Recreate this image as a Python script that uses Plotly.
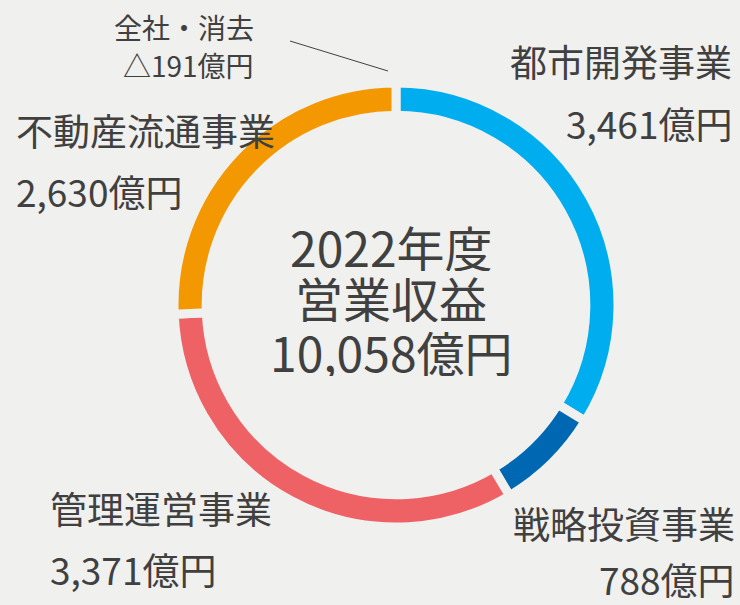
import plotly.graph_objects as go

W, H = 740, 605

segments = ["都市開発事業", "戦略投資事業", "管理運営事業", "不動産流通事業"]
values = [3461, 788, 3371, 2630]
colors = ["#00AEEF", "#0068B2", "#EE6266", "#F39800"]
value_labels = ["3,461億円", "788億円", "3,371億円", "2,630億円"]
elim_label = ["全社・消去", "△191億円"]
center_lines = ["2022年度", "営業収益", "10,058億円"]

BG = "#F0F0EF"
TXT = "#404040"
FONT = "Noto Sans CJK JP"

def px(x):
    return x / W

def py(y):
    return 1 - y / H

cx, cy, R = 396, 305, 222

fig = go.Figure()
fig.add_trace(go.Pie(
    labels=segments,
    values=values,
    sort=False,
    direction="clockwise",
    rotation=0,
    hole=0.855,
    marker=dict(colors=colors, line=dict(color=BG, width=9)),
    textinfo="none",
    hoverinfo="skip",
    showlegend=False,
    domain=dict(x=[px(cx - R), px(cx + R)], y=[py(cy + R), py(cy - R)]),
))

ann = []

def add(text, x, y, size, xanchor, height=None):
    a = dict(text=text, x=px(x), y=py(y), xref="paper", yref="paper",
             xanchor=xanchor, yanchor="middle", showarrow=False,
             font=dict(family=FONT, size=size, color=TXT))
    if height:
        a["height"] = height
    ann.append(a)

add(segments[0], 734, 61, 37, "right")
add(value_labels[0], 734, 123, 37, "right")
add(segments[1], 737, 523, 37, "right")
add(value_labels[1], 737, 579, 37, "right")
add(segments[2], 48, 508, 37, "left")
add(value_labels[2], 48, 569, 37, "left")
add(segments[3], 14, 130, 37, "left")
add(value_labels[3], 14, 191, 37, "left")
add(elim_label[0], 256, 27, 28, "right")
add(elim_label[1], 256, 65, 28, "right")

for txt, yy in zip(center_lines, [245, 296, 350]):
    add(txt, 391, yy, 48, "center", height=51)

fig.update_layout(
    width=W, height=H,
    margin=dict(l=0, r=0, t=0, b=0),
    paper_bgcolor=BG, plot_bgcolor=BG,
    annotations=ann,
    shapes=[dict(type="line", xref="paper", yref="paper",
                 x0=px(290), y0=py(41), x1=px(388), y1=py(71),
                 line=dict(color="#404040", width=1))],
)

fig.write_html("out.html", config={"displayModeBar": False},
               post_script="document.body.style.margin='0';document.body.style.background='%s';" % BG)
